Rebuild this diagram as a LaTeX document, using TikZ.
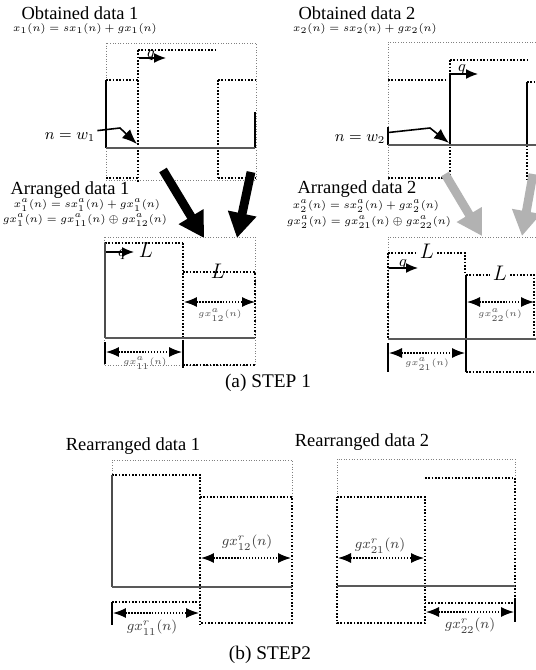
\documentclass[tikz,border=0pt]{standalone}
\usepackage{fontspec}
\setmainfont{Liberation Serif}
\usetikzlibrary{arrows.meta}
\tikzset{
  frame/.style={densely dotted, gray, line width=0.5pt},
  block/.style={densely dotted, line width=0.9pt},
  signal/.style={line width=1pt},
  zeroaxis/.style={gray!70!black, line width=0.7pt},
  spanarrow/.style={{Latex[length=2.6mm,width=2mm]}-{Latex[length=2.6mm,width=2mm]}, densely dotted, line width=0.7pt},
  pointer/.style={-{Latex[length=3mm,width=2.4mm]}, line width=0.9pt},
  shiftarrow/.style={-{Latex[length=2.4mm,width=2mm]}, line width=0.8pt},
  bigarrow/.style={-{Triangle[length=5mm,width=5.5mm]}, line width=5pt},
  title/.style={font=\fontsize{10.5}{12}\selectfont, inner sep=0pt},
  eqn/.style={font=\fontsize{6.5}{7}\selectfont, inner sep=0pt},
  tag/.style={font=\fontsize{5}{6}\selectfont, inner sep=0pt, text=gray!60!black},
  bigtag/.style={font=\footnotesize, inner sep=0pt, text=gray!50!black},
  caption/.style={font=\fontsize{11}{13}\selectfont, inner sep=1pt}
}

\begin{document}
\begin{tikzpicture}[x=0.02cm, y=-0.02cm]
\useasboundingbox[fill=white] (0,0) rectangle (536,670);

% (a) STEP 1 -- obtained data 1
\node[title] (obt1) at (80,13) {Obtained data 1};
\node[eqn] (obt1eq) at (85,29) {$x_1(n) = sx_1(n) + gx_1(n)$};
\draw[frame] (106,43) rectangle (256,180);
\draw[block] (106,80) -- (138,80);
\draw[block] (138,50) -- (216,50);
\draw[block] (218,80) -- (255,80);
\draw[block] (138,50) -- (138,182);
\draw[block] (218,80) -- (218,180);
\draw[block] (106,178) -- (138,178);
\draw[block] (218,178) -- (255,178);
\draw[signal] (106,80) -- (106,148);
\draw[signal] (255,112) -- (255,148);
\draw[zeroaxis] (106,148) -- (255,148);
\coordinate (q1s) at (139,58);
\coordinate (q1e) at (166,58);
\draw[shiftarrow] (q1s) -- (q1e);
\node[font=\small, inner sep=0pt] (q1) at (151,56) {$q$};
\node[font=\small, inner sep=1pt] (w1lab) at (70,137) {$n = w_1$};
\coordinate (w1edge) at (137,144);
\draw[pointer] (w1lab.north east) -- (120,128) -- (w1edge);

% (a) STEP 1 -- obtained data 2
\node[title] (obt2) at (357,13) {Obtained data 2};
\node[eqn] (obt2eq) at (365,29) {$x_2(n) = sx_2(n) + gx_2(n)$};
\draw[frame] (536,42) -- (388,42) -- (388,180);
\draw[block] (388,80) -- (448,80);
\draw[block] (450,60) -- (527,60);
\draw[block] (527,82) -- (536,82);
\draw[block] (450,60) -- (450,182);
\draw[block] (527,82) -- (527,180);
\draw[block] (388,178) -- (450,178);
\draw[signal] (388,127) -- (388,145);
\draw[signal] (450,73) -- (450,145);
\draw[signal] (527,82) -- (527,145);
\draw[zeroaxis] (388,145) -- (536,145);
\coordinate (q2s) at (451,74);
\coordinate (q2e) at (478,74);
\draw[shiftarrow] (q2s) -- (q2e);
\node[font=\small, inner sep=0pt] (q2) at (462,70) {$q$};
\node[font=\small, inner sep=1pt] (w2lab) at (360,139) {$n = w_2$};
\coordinate (w2edge) at (449,143);
\draw[pointer] (w2lab.north east) -- (430,128) -- (w2edge);

% arrows between rows
\coordinate (a1s) at (163,170);
\coordinate (a1e) at (204,238);
\coordinate (a2s) at (251,172);
\coordinate (a2e) at (237,238);
\draw[bigarrow] (a1s) -- (a1e);
\draw[bigarrow] (a2s) -- (a2e);
\coordinate (b1s) at (445,174);
\coordinate (b1e) at (482,236);
\coordinate (b2s) at (533,174);
\coordinate (b2e) at (522,236);
\draw[bigarrow, draw=gray!60, fill=gray!60] (b1s) -- (b1e);
\draw[bigarrow, draw=gray!60, fill=gray!60] (b2s) -- (b2e);

% (a) STEP 1 -- arranged data 1
\node[title] (arr1) at (70,190) {Arranged data 1};
\node[eqn] (arr1eqa) at (87,205) {$x_1^a(n) = sx_1^a(n) + gx_1^a(n)$};
\node[eqn] (arr1eqb) at (85,220) {$gx_1^a(n) = gx_{11}^a(n) \oplus gx_{12}^a(n)$};
\draw[frame] (104,237) rectangle (255,365);
\draw[block] (105,243) -- (183,243);
\draw[block] (183,243) -- (183,340);
\draw[block] (183,272) -- (255,272) -- (255,338);
\draw[block] (183,365) -- (255,365);
\draw[signal] (183,340) -- (183,368);
\draw[signal, gray!60!black] (105,243) -- (105,338);
\draw[signal] (105,342) -- (105,364);
\draw[zeroaxis] (105,338) -- (255,338);
\coordinate (q3s) at (106,252);
\coordinate (q3e) at (134,252);
\draw[shiftarrow] (q3s) -- (q3e);
\node[font=\small, inner sep=0pt] (q3) at (122,255) {$q$};
\node[font=\large, inner sep=0pt] (l1) at (146,250) {$L$};
\node[font=\large, inner sep=0pt] (l2) at (218,271) {$L$};
\coordinate (s11l) at (106,352);
\coordinate (s11r) at (182,352);
\draw[spanarrow] (s11l) -- (s11r);
\node[tag] (g11a) at (145,363) {$gx_{11}^a(n)$};
\coordinate (s12l) at (184,302);
\coordinate (s12r) at (255,302);
\draw[spanarrow] (s12l) -- (s12r);
\node[tag] (g12a) at (220,315) {$gx_{12}^a(n)$};

% (a) STEP 1 -- arranged data 2
\node[title] (arr2) at (357,189) {Arranged data 2};
\node[eqn] (arr2eqa) at (366,206) {$x_2^a(n) = sx_2^a(n) + gx_2^a(n)$};
\node[eqn] (arr2eqb) at (369,222) {$gx_2^a(n) = gx_{21}^a(n) \oplus gx_{22}^a(n)$};
\draw[frame] (536,237) -- (388,237) -- (388,340);
\draw[block] (388,253) -- (418,253);
\draw[block] (437,253) -- (465,253) -- (465,275);
\draw[block] (466,275) -- (490,275);
\draw[block] (510,275) -- (534,275) -- (534,338);
\draw[block] (466,372) -- (536,372);
\draw[block] (388,253) -- (388,339);
\draw[signal] (466,275) -- (466,372);
\draw[signal] (388,343) -- (388,372);
\draw[zeroaxis] (388,339) -- (536,339);
\coordinate (q4s) at (389,268);
\coordinate (q4e) at (418,268);
\draw[shiftarrow] (q4s) -- (q4e);
\node[font=\small, inner sep=0pt] (q4) at (403,265) {$q$};
\node[font=\large, inner sep=0pt] (l3) at (427,251) {$L$};
\node[font=\large, inner sep=0pt] (l4) at (500,273) {$L$};
\coordinate (s21l) at (389,353);
\coordinate (s21r) at (465,353);
\draw[spanarrow] (s21l) -- (s21r);
\node[tag] (g21a) at (427,364) {$gx_{21}^a(n)$};
\coordinate (s22l) at (467,302);
\coordinate (s22r) at (534,302);
\draw[spanarrow] (s22l) -- (s22r);
\node[tag] (g22a) at (500,315) {$gx_{22}^a(n)$};

\node[caption] (capa) at (268,383) {(a) STEP 1};

% (b) STEP2 -- rearranged data 1
\node[title] (rea1) at (133,446) {Rearranged data 1};
\draw[frame] (112,587) -- (112,460) -- (292,460) -- (292,497);
\draw[block] (112,475) -- (200,475) -- (200,625);
\draw[block] (112,602) -- (200,602);
\draw[block] (200,497) -- (292,497) -- (292,623) -- (200,623);
\draw[signal, gray!60!black] (112,475) -- (112,587);
\draw[signal] (112,602) -- (112,625);
\draw[zeroaxis] (112,587) -- (292,587);
\coordinate (r12l) at (201,558);
\coordinate (r12r) at (291,558);
\draw[spanarrow] (r12l) -- (r12r);
\node[bigtag] (g12r) at (247,543) {$gx_{12}^r(n)$};
\coordinate (r11l) at (113,613);
\coordinate (r11r) at (199,613);
\draw[spanarrow] (r11l) -- (r11r);
\node[bigtag] (g11r) at (152,628) {$gx_{11}^r(n)$};

% (b) STEP2 -- rearranged data 2
\node[title] (rea2) at (362,442) {Rearranged data 2};
\draw[frame] (337,497) -- (337,459) -- (515,459) -- (515,478);
\draw[block] (337,497) -- (425,497) -- (425,623) -- (337,623) -- cycle;
\draw[block] (425,478) -- (515,478) -- (515,603) -- (425,603);
\draw[signal] (515,600) -- (515,622);
\draw[zeroaxis] (337,586) -- (515,586);
\coordinate (r21l) at (338,558);
\coordinate (r21r) at (424,558);
\draw[spanarrow] (r21l) -- (r21r);
\node[bigtag] (g21r) at (380,546) {$gx_{21}^r(n)$};
\coordinate (r22l) at (426,612);
\coordinate (r22r) at (514,612);
\draw[spanarrow] (r22l) -- (r22r);
\node[bigtag] (g22r) at (470,626) {$gx_{22}^r(n)$};

\node[caption] (capb) at (270,655) {(b) STEP2};
\end{tikzpicture}
\end{document}
